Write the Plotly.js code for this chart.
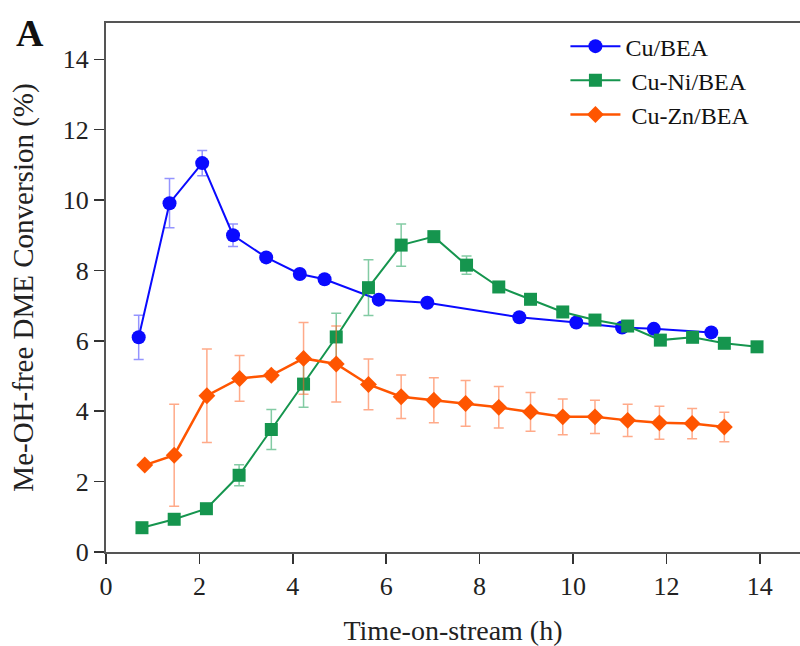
<!DOCTYPE html>
<html><head><meta charset="utf-8">
<script src="https://cdn.plot.ly/plotly-3.0.1.min.js"></script>
<style>body{margin:0;background:#fff}#chart{width:800px;height:646px}</style>
</head><body><div id="chart"></div>
<script>
const seriesNames = ["Cu/BEA", "\u00a0Cu-Ni/BEA", "\u00a0Cu-Zn/BEA"];
const cuX = [0.70, 1.36, 2.06, 2.72, 3.43, 4.15, 4.68, 5.84, 6.88, 8.85, 10.07, 11.05, 11.73, 12.96];
const cuY = [6.10, 9.91, 11.05, 9.00, 8.37, 7.90, 7.75, 7.17, 7.08, 6.67, 6.52, 6.38, 6.34, 6.24];
const cuErr = [0.63, 0.70, 0.36, 0.32, 0.10, 0.12, 0.08, 0.08, 0, 0, 0, 0, 0, 0];
const niX = [0.77, 1.46, 2.15, 2.85, 3.54, 4.23, 4.93, 5.62, 6.32, 7.02, 7.72, 8.41, 9.09, 9.78, 10.47, 11.17, 11.87, 12.56, 13.24, 13.94];
const niY = [0.69, 0.93, 1.23, 2.18, 3.48, 4.77, 6.11, 7.51, 8.72, 8.96, 8.15, 7.53, 7.18, 6.82, 6.59, 6.42, 6.02, 6.10, 5.93, 5.83];
const niErr = [0, 0, 0, 0.30, 0.57, 0.66, 0.67, 0.79, 0.60, 0, 0.26, 0, 0, 0.08, 0, 0, 0, 0, 0, 0];
const znX = [0.83, 1.46, 2.16, 2.86, 3.54, 4.23, 4.93, 5.62, 6.32, 7.02, 7.70, 8.41, 9.09, 9.78, 10.47, 11.17, 11.85, 12.55, 13.24];
const znY = [2.47, 2.75, 4.44, 4.93, 5.02, 5.50, 5.34, 4.76, 4.41, 4.31, 4.22, 4.11, 3.98, 3.84, 3.84, 3.74, 3.67, 3.65, 3.55];
const znErr = [0, 1.45, 1.33, 0.65, 0.12, 1.02, 1.08, 0.72, 0.62, 0.64, 0.65, 0.59, 0.55, 0.51, 0.47, 0.46, 0.47, 0.43, 0.42];
const xTicks = [0, 2, 4, 6, 8, 10, 12, 14];
const yTicks = [0, 2, 4, 6, 8, 10, 12, 14];

const FONT = "Liberation Serif, Times New Roman, serif";
function mk(x, y, e, name, color, ecolor, symbol, size, lw) {
  return {
    x: x, y: y, name: name, type: "scatter", mode: "lines+markers",
    line: {color: color, width: lw},
    marker: {color: color, symbol: symbol, size: size},
    error_y: {type: "data", array: e, visible: true, color: ecolor, thickness: 1.5, width: 5}
  };
}
const data = [
  mk(cuX, cuY, cuErr, seriesNames[0], "#0a0aff", "rgba(60,60,255,0.55)", "circle", 14, 2),
  mk(niX, niY, niErr, seriesNames[1], "#15954e", "rgba(30,160,90,0.55)", "square", 13, 2),
  mk(znX, znY, znErr, seriesNames[2], "#ff5500", "rgba(255,100,40,0.55)", "diamond", 13, 2.5)
];
const layout = {
  width: 800, height: 646,
  margin: {l: 106, r: 0, t: 23, b: 94},
  paper_bgcolor: "#fff", plot_bgcolor: "#fff",
  font: {family: FONT, color: "#222", size: 26},
  showlegend: true,
  legend: {x: 0.662, y: 0.998, xanchor: "left", yanchor: "top", bgcolor: "rgba(0,0,0,0)",
           itemwidth: 50,
           font: {family: FONT, size: 24, color: "#111"}, tracegroupgap: 0},
  xaxis: {range: [0, 14.86], tickvals: xTicks, ticktext: xTicks.map(String),
          showgrid: false, zeroline: false, showline: true, linecolor: "#555", linewidth: 2,
          mirror: true, ticks: "outside", ticklen: 10, tickwidth: 1.5, tickcolor: "#333",
          tickfont: {family: FONT, size: 26, color: "#222"},
          title: {text: "Time-on-stream (h)", font: {family: FONT, size: 28, color: "#222"}, standoff: 20}},
  yaxis: {range: [0, 15.03], tickvals: yTicks, ticktext: yTicks.map(String),
          showgrid: false, zeroline: false, showline: true, linecolor: "#555", linewidth: 2,
          ticks: "outside", ticklen: 10, tickwidth: 1.5, tickcolor: "#333",
          tickfont: {family: FONT, size: 26, color: "#222"},
          title: {text: "Me-OH-free DME Conversion (%)", font: {family: FONT, size: 29, color: "#222"}, standoff: 21}},
  annotations: [{text: "<b>A</b>", xref: "paper", yref: "paper", x: -0.133, y: 1.025,
                 xanchor: "left", yanchor: "top", showarrow: false,
                 font: {family: FONT, size: 38, color: "#111"}}]
};
Plotly.newPlot("chart", data, layout, {displayModeBar: false, staticPlot: true});
</script></body></html>
